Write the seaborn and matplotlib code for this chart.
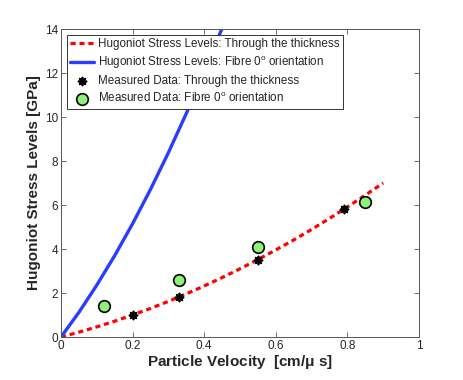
import numpy as np
import pandas as pd
import seaborn as sns
import matplotlib.pyplot as plt

# Hugoniot curve: through the thickness
u_thick = [0.0, 0.05, 0.1, 0.15, 0.2, 0.25, 0.3, 0.35, 0.4, 0.45, 0.5, 0.55, 0.6, 0.65, 0.7, 0.75, 0.8, 0.85, 0.9]
s_thick = [0.0, 0.22, 0.46, 0.72, 1.0, 1.30, 1.62, 1.96, 2.32, 2.70, 3.10, 3.52, 3.96, 4.41, 4.89, 5.39, 5.91, 6.45, 7.0]

# Hugoniot curve: fibre 0 deg orientation (clipped at 14)
u_fibre = [0.0, 0.05, 0.1, 0.15, 0.2, 0.25, 0.3, 0.35, 0.4, 0.45, 0.5]
s_fibre = [0.0, 1.12, 2.36, 3.70, 5.15, 6.71, 8.38, 10.16, 12.05, 14.04, 16.15]

# measured points
u_meas_thick = [0.20, 0.33, 0.55, 0.79]
s_meas_thick = [1.0, 1.8, 3.5, 5.8]
u_meas_fibre = [0.12, 0.33, 0.55, 0.85]
s_meas_fibre = [1.4, 2.6, 4.1, 6.15]

sns.set_style("ticks")
plt.rcParams["font.family"] = ["Liberation Sans", "DejaVu Sans"]
plt.rcParams["mathtext.fontset"] = "custom"
plt.rcParams["mathtext.rm"] = "Liberation Sans"
plt.rcParams["mathtext.default"] = "regular"

fig = plt.figure(figsize=(4.63, 3.80), dpi=100)
ax = fig.add_axes([61 / 463, 43 / 380, 358 / 463, 308 / 380])

sns.lineplot(x=u_thick, y=s_thick, ax=ax, color="#ff0000", lw=2.3,
             dashes=False, linestyle=(0, (1.6, 1.2)),
             label="Hugoniot Stress Levels: Through the thickness")
sns.lineplot(x=u_fibre, y=s_fibre, ax=ax, color="#2a3cff", lw=2.4,
             label="Hugoniot Stress Levels: Fibre 0$^{o}$ orientation")
sns.scatterplot(x=u_meas_thick, y=s_meas_thick, ax=ax, marker=(8, 2, 0),
                color="black", s=32, linewidth=1.3, zorder=4,
                label="Measured Data: Through the thickness")
sns.scatterplot(x=u_meas_fibre, y=s_meas_fibre, ax=ax, marker="o",
                color="#8ff07a", edgecolor="black", s=70, linewidth=1.2, zorder=4,
                label="Measured Data: Fibre 0$^{o}$ orientation")

ax.set_xlim(0, 1)
ax.set_ylim(0, 14)
ax.set_xticks([0, 0.2, 0.4, 0.6, 0.8, 1])
ax.set_xticklabels(["0", "0.2", "0.4", "0.6", "0.8", "1"])
ax.set_yticks(range(0, 15, 2))
ax.tick_params(direction="in", top=True, right=True, labelsize=8.5,
               length=3.5, width=0.6, color="#555555", pad=2)
for sp in ax.spines.values():
    sp.set_linewidth(0.7)
    sp.set_color("#555555")

ax.set_xlabel("Particle Velocity  [cm/$\\mu$ s]", fontsize=11, fontweight="bold", labelpad=1)
ax.set_ylabel("Hugoniot Stress Levels [GPa]", fontsize=11, fontweight="bold", labelpad=3)

leg = ax.legend(loc="upper left", fontsize=8.4, frameon=True, fancybox=False,
                framealpha=1, edgecolor="#333333", borderpad=0.3, labelspacing=0.35,
                handlelength=2.0, handletextpad=0.35, borderaxespad=0.5)
leg.get_frame().set_linewidth(0.7)

fig.savefig("out.png", dpi=100)
